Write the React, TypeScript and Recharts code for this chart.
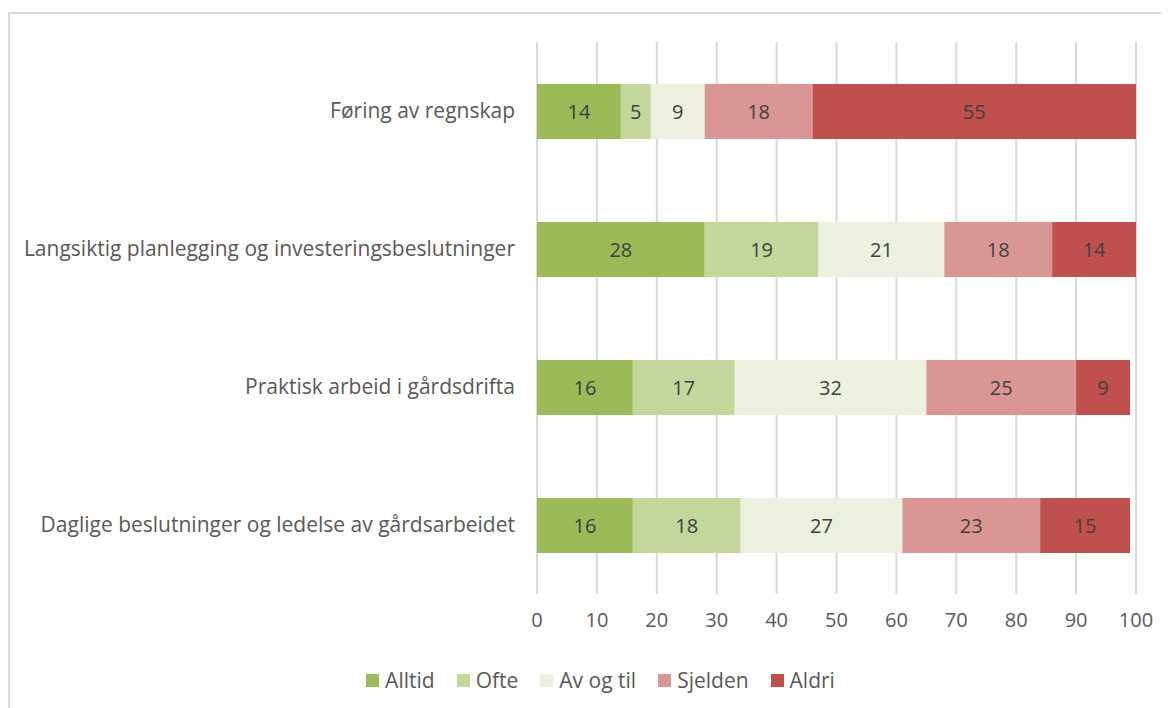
import React from 'react';
import { BarChart, Bar, XAxis, YAxis, CartesianGrid, Legend, LabelList } from 'recharts';

const categories = [
  'Føring av regnskap',
  'Langsiktig planlegging og investeringsbeslutninger',
  'Praktisk arbeid i gårdsdrifta',
  'Daglige beslutninger og ledelse av gårdsarbeidet',
];

const alltid = [14, 28, 16, 16];
const ofte = [5, 19, 17, 18];
const avOgTil = [9, 21, 32, 27];
const sjelden = [18, 18, 25, 23];
const aldri = [55, 14, 9, 15];

const xTicks = [0, 10, 20, 30, 40, 50, 60, 70, 80, 90, 100];

const series = [
  { key: 'Alltid', values: alltid, color: '#9BBB59' },
  { key: 'Ofte', values: ofte, color: '#C3D69B' },
  { key: 'Av og til', values: avOgTil, color: '#EBF1DE' },
  { key: 'Sjelden', values: sjelden, color: '#D99694' },
  { key: 'Aldri', values: aldri, color: '#C0504D' },
];

const data = categories.map((name, i) => {
  const row: any = { name };
  series.forEach(s => { row[s.key] = s.values[i]; });
  return row;
});

const FONT = '"Open Sans", Lato, sans-serif';
const TEXT = '#595959';
const FS = 20;
const FS_LABEL = 21;

const LegendContent = () => (
  <div style={{ display: 'flex', justifyContent: 'center', height: 30, alignItems: 'center', paddingLeft: 24, fontFamily: FONT, fontSize: FS_LABEL, color: TEXT }}>
    {series.map(s => (
      <div key={s.key} style={{ display: 'flex', alignItems: 'center', margin: '0 11px' }}>
        <span style={{ width: 13, height: 13, background: s.color, display: 'inline-block', marginRight: 6 }} />
        <span>{s.key}</span>
      </div>
    ))}
  </div>
);

const App = () => {
  return (
    <div style={{ marginTop: 4, width: 1161, height: 696, borderTop: '2px solid #d9d9d9', borderLeft: '2px solid #d9d9d9', boxSizing: 'border-box', position: 'relative' }}>
      <div style={{ position: 'absolute', left: -2, top: -2 }}>
        <BarChart
          width={1161}
          height={696}
          data={data}
          layout="vertical"
          margin={{ top: 30, right: 33, left: 0, bottom: 34 }}
          barSize={55}
          style={{ fontFamily: FONT }}
        >
          <CartesianGrid horizontal={false} stroke="#d9d9d9" strokeWidth={2} />
          <XAxis
            type="number"
            domain={[0, 100]}
            ticks={xTicks}
            allowDataOverflow
            axisLine={false}
            tickLine={false}
            tickSize={0}
            tickMargin={19}
            height={50}
            tick={{ fill: TEXT, fontSize: FS }}
          />
          <YAxis
            type="category"
            dataKey="name"
            width={529}
            axisLine={false}
            tickLine={false}
            tickSize={0}
            tickMargin={22}
            tick={{ fill: TEXT, fontSize: FS_LABEL }}
          />
          <Legend verticalAlign="bottom" content={<LegendContent />} wrapperStyle={{ top: 653, left: 0, width: 1161 }} />
          {series.map(s => (
            <Bar key={s.key} dataKey={s.key} stackId="a" fill={s.color} isAnimationActive={false}>
              <LabelList dataKey={s.key} position="center" fill="#404040" fontSize={FS} />
            </Bar>
          ))}
        </BarChart>
      </div>
    </div>
  );
};

export default App;
